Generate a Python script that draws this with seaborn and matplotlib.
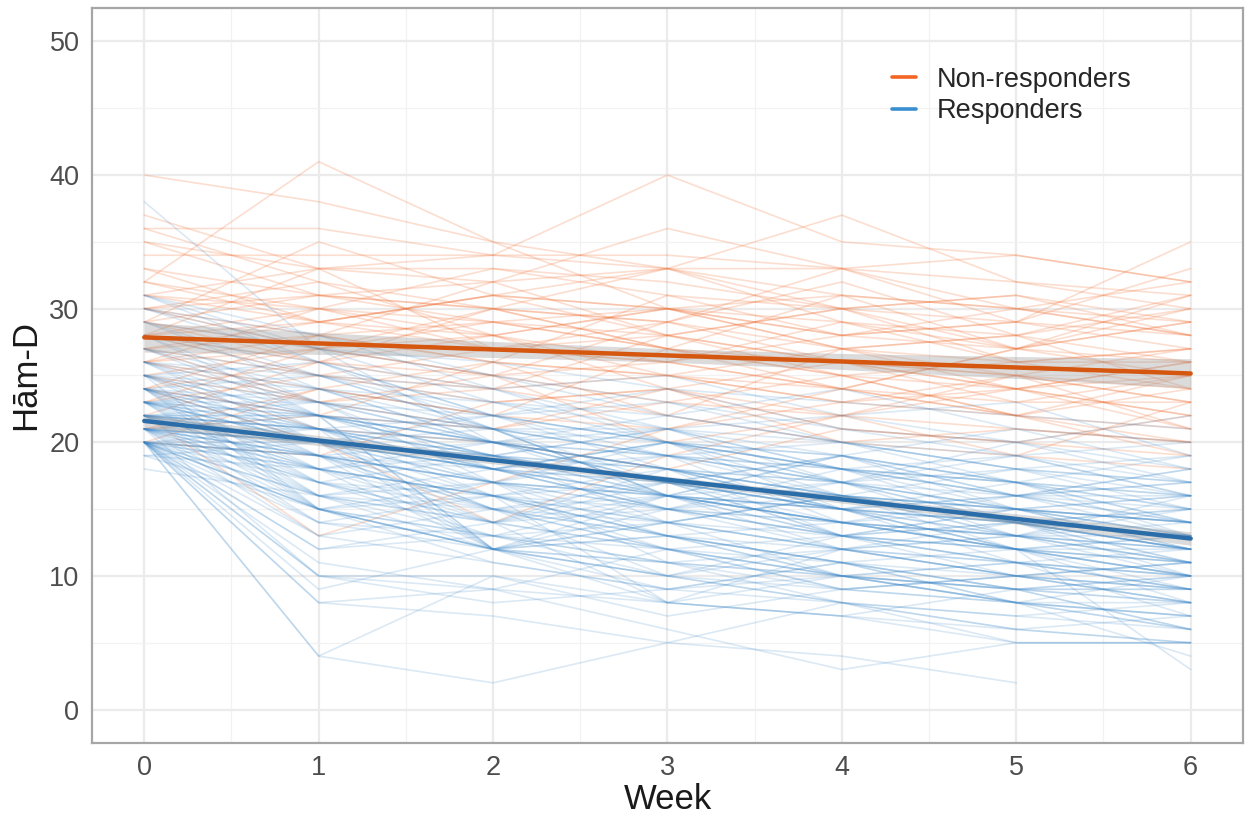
import numpy as np
import pandas as pd
import seaborn as sns
import matplotlib.pyplot as plt
from matplotlib.lines import Line2D
from matplotlib.ticker import MultipleLocator

nan = np.nan

# Week of assessment
weeks = [0, 1, 2, 3, 4, 5, 6]

# Ham-D scores per patient, weeks 0..6 (approximate)
nonresp_scores = [
    [40, 38, 35, 33, 31, 30, 28],
    [32, 41, 35, 30, 28, 27, 26],
    [37, 33, 34, 34, 33, 32, 30],
    [36, 36, 34, 40, 35, 34, 32],
    [35, 33, 32, 36, 33, 30, 29],
    [34, 34, 34, 33, 37, 32, 31],
    [31, 33, 33, 32, 30, 29, 35],
    [30, 31, 30, 33, 33, 34, 32],
    [29, 35, 31, 30, 28, 29, 33],
    [28, 30, 33, 31, 30, 27, 30],
    [33, 31, 30, 29, 27, 25, 24],
    [27, 29, 31, 33, 29, 26, 27],
    [26, 28, 29, 27, 31, 30, 28],
    [25, 27, 30, 29, 26, 24, 25],
    [24, 26, 28, 30, 27, 28, 26],
    [23, 25, 27, 26, 29, 27, 31],
    [22, 26, 24, 28, 26, 25, 27],
    [21, 22, 26, 25, 24, 27, 25],
    [20, 24, 22, 27, 25, 22, 24],
    [30, 28, 26, 25, 23, 24, 22],
    [29, 27, 28, 24, 26, 23, 23],
    [28, 26, 25, 23, 22, 24, 21],
    [27, 25, 23, 24, 21, 20, 22],
    [26, 24, 22, 21, 23, 22, 19],
    [25, 23, 24, 22, 20, 21, 20],
    [31, 29, 27, 26, 24, 22, 21],
    [32, 30, 29, 27, 26, 25, 23],
    [28, 33, 27, 28, 25, 26, 24],
    [27, 23, 21, 23, 25, 24, 26],
    [26, 30, 28, 26, 28, 29, 28],
    [24, 28, 32, 28, 30, 31, 29],
    [23, 27, 25, 29, 32, 28, 30],
    [29, 26, 30, 27, 24, 23, 25],
    [30, 32, 28, 30, 27, 26, 27],
    [35, 31, 29, 28, 26, 24, 22],
    [36, 32, 30, 27, 25, 22, 20],
    [25, 21, 20, 18, 21, 20, 19],
    [22, 13, 17, 21, 24, 22, 25],
    [24, 20, 14, 19, 22, 21, 20],
    [20, 19, 23, 24, 22, 25, 23],
    [21, 24, 26, 22, 27, 24, 26],
    [28, 29, 31, 30, 29, 28, 31],
    [27, 28, 26, 31, 28, 30, 32],
    [26, 27, 29, 30, 31, 27, 29],
    [29, 31, 32, 33, 30, 31, 28],
    [31, 30, 27, 29, 33, 29, 27],
    [33, 29, 28, 25, 27, 28, 24],
    [30, 27, 25, 26, 24, 27, 29],
    [28, 25, 24, 25, 23, 25, 21],
    [24, 22, 21, 24, 20, 19, 18],
    [26, 23, 25, 20, 22, 19, 23],
    [32, 29, 31, 28, 30, 26, 26],
]

resp_scores = [
    [38, 27, 20, 18, 15, 14, 12],
    [20, 4, 2, 5, 4, 2, nan],
    [20, 8, 9, 6, 3, 5, 5],
    [20, 4, 10, 8, 7, 5, 5],
    [31, 28, 25, 22, 20, 17, 15],
    [31, 27, 23, 20, 18, 16, 14],
    [30, 26, 24, 21, 19, 17, 13],
    [29, 25, 22, 20, 17, 15, 12],
    [29, 24, 21, 19, 16, 14, 11],
    [28, 26, 22, 18, 16, 13, 10],
    [28, 23, 20, 17, 15, 12, 9],
    [27, 25, 21, 19, 18, 15, 14],
    [27, 22, 19, 16, 14, 12, 8],
    [26, 24, 20, 18, 15, 13, 12],
    [26, 21, 18, 15, 13, 11, 10],
    [25, 23, 21, 19, 17, 15, 16],
    [25, 22, 12, 14, 12, 10, 9],
    [25, 20, 18, 16, 19, 17, 15],
    [25, 15, 12, 10, 9, 8, 7],
    [24, 22, 20, 21, 18, 16, 17],
    [24, 21, 19, 17, 15, 14, 13],
    [24, 20, 17, 14, 12, 10, 8],
    [24, 15, 12, 13, 11, 9, 10],
    [24, 18, 16, 18, 16, 15, 14],
    [23, 21, 22, 20, 18, 19, 16],
    [23, 20, 18, 16, 14, 12, 11],
    [23, 19, 15, 12, 10, 8, 6],
    [23, 22, 20, 17, 16, 14, 12],
    [23, 17, 14, 15, 13, 12, 11],
    [22, 20, 19, 18, 16, 15, 14],
    [22, 21, 18, 15, 14, 13, 13],
    [22, 19, 17, 19, 17, 14, 12],
    [22, 18, 12, 11, 10, 8, 8],
    [22, 15, 13, 11, 12, 10, 9],
    [22, 20, 16, 14, 16, 13, 15],
    [22, 22, 21, 20, 18, 17, 16],
    [21, 20, 18, 16, 15, 13, 12],
    [21, 19, 17, 15, 13, 12, 10],
    [21, 18, 15, 13, 11, 10, 9],
    [21, 21, 20, 19, 17, 16, 17],
    [21, 15, 12, 14, 13, 11, 12],
    [21, 17, 16, 17, 14, 15, 13],
    [21, 20, 22, 20, 19, 17, 14],
    [21, 13, 11, 9, 10, 8, 7],
    [20, 15, 12, 10, 8, 6, 5],
    [20, 18, 16, 15, 14, 12, 11],
    [20, 19, 17, 16, 15, 14, 13],
    [20, 14, 12, 11, 9, 10, 8],
    [20, 11, 9, 8, 7, 6, 5],
    [20, 10, 9, 12, 10, 9, 8],
    [20, 12, 13, 10, 8, 7, 6],
    [20, 16, 14, 12, 13, 11, 10],
    [20, 20, 18, 17, 16, 15, 14],
    [20, 17, 13, 14, 12, 10, 11],
    [20, 8, 7, 5, 8, 6, 7],
    [20, 9, 12, 8, 10, 9, 9],
    [20, 15, 11, 9, 11, 8, 6],
    [19, 18, 14, 12, 11, 9, 8],
    [19, 15, 13, 12, 10, 9, 10],
    [18, 16, 13, 11, 10, 8, 7],
    [25, 24, 23, 21, 20, 18, 17],
    [25, 21, 16, 13, 11, 9, 6],
    [24, 23, 22, 24, 21, 20, 18],
    [24, 19, 14, 16, 14, 13, 11],
    [23, 23, 20, 22, 20, 18, 19],
    [23, 18, 16, 13, 12, 11, 9],
    [22, 22, 19, 21, 22, 20, 22],
    [22, 17, 15, 12, 9, 8, 4],
    [26, 23, 17, 16, 17, 14, 13],
    [27, 24, 22, 23, 21, 19, 16],
    [28, 25, 23, 22, 24, 21, 20],
    [29, 27, 26, 24, 23, 22, 21],
    [30, 28, 24, 25, 22, 23, 19],
    [24, 25, 21, 17, 19, 16, 14],
    [23, 24, 20, 18, 17, 20, 17],
    [22, 23, 21, 16, 15, 12, 10],
    [21, 22, 18, 20, 15, 14, 15],
    [21, 20, 15, 17, 15, 16, 16],
    [20, 21, 19, 14, 16, 18, 15],
    [25, 19, 17, 20, 18, 16, 18],
    [24, 17, 19, 15, 17, 13, 16],
    [23, 16, 14, 18, 15, 17, 14],
    [22, 14, 16, 13, 11, 12, 13],
    [21, 16, 12, 10, 12, 14, 11],
    [20, 13, 15, 13, 14, 12, 12],
    [26, 20, 12, 16, 14, 12, 10],
    [22, 21, 12, 9, 8, 7, 8],
    [23, 22, 12, 13, 10, 11, 9],
    [21, 19, 12, 15, 12, 13, 11],
    [25, 22, 19, 18, 13, 12, 13],
    [24, 21, 18, 20, 17, 15, 12],
    [22, 20, 17, 13, 10, 11, 7],
    [21, 18, 16, 12, 9, 10, 8],
    [20, 19, 16, 14, 10, 9, 9],
    [23, 21, 17, 11, 8, 5, 5],
    [22, 19, 15, 10, 13, 10, 11],
    [21, 17, 14, 8, 12, 11, 10],
    [20, 15, 16, 8, 7, 9, 6],
    [24, 20, 18, 19, 20, 18, 17],
    [23, 20, 19, 17, 19, 21, 18],
    [22, 21, 20, 18, 17, 19, 20],
    [21, 20, 19, 21, 18, 17, 19],
    [20, 19, 18, 20, 19, 16, 18],
    [26, 25, 24, 20, 16, 15, 14],
    [25, 26, 22, 19, 18, 14, 12],
    [24, 22, 20, 16, 19, 15, 13],
    [23, 20, 21, 16, 14, 16, 15],
    [22, 18, 20, 17, 13, 15, 16],
    [21, 19, 20, 18, 16, 14, 10],
    [20, 18, 19, 16, 12, 13, 12],
    [28, 22, 20, 19, 14, 13, 11],
    [27, 23, 18, 17, 13, 14, 12],
    [26, 22, 21, 16, 15, 11, 9],
    [24, 16, 15, 14, 16, 12, 10],
    [23, 15, 17, 16, 13, 15, 13],
    [22, 16, 18, 15, 16, 14, 15],
    [20, 16, 17, 15, 18, 17, 16],
    [21, 14, 13, 16, 14, 13, 14],
    [20, 12, 14, 17, 15, 16, 13],
    [19, 20, 15, 16, 13, 14, 12],
    [31, 26, 21, 21, 17, 18, 16],
    [30, 27, 25, 23, 20, 19, 17],
    [22, 21, 19, 17, 15, 12, 3],
    [21, 10, 8, 9, 11, 8, 10],
    [20, 10, 10, 7, 9, 10, 11],
]

# Linear fits (end points) and their confidence half-widths per week
fit_weeks = [0, 6]
fit_nonresp = [27.85, 25.15]
fit_resp = [21.6, 12.8]
ci_nonresp = [1.1, 0.82, 0.6, 0.5, 0.6, 0.82, 1.1]
ci_resp = [0.5, 0.38, 0.28, 0.25, 0.28, 0.38, 0.5]

group_names = ["Non-responders", "Responders"]

# long format table
rows = []
for i, s in enumerate(nonresp_scores):
    for w, v in zip(weeks, s):
        rows.append(("N%d" % i, group_names[0], w, v))
for i, s in enumerate(resp_scores):
    for w, v in zip(weeks, s):
        rows.append(("R%d" % i, group_names[1], w, v))
df = pd.DataFrame(rows, columns=["id", "group", "week", "score"]).dropna()

sns.set_style("white")
plt.rcParams["font.family"] = ["Liberation Sans", "DejaVu Sans"]

orange_thin = "#f0692a"
orange_fit = "#d4560f"
blue_thin = "#3a86c8"
blue_fit = "#2b6da8"

fig = plt.figure(figsize=(12.53, 8.17), dpi=100)
ax = fig.add_axes([0.0734, 0.0906, 0.9186, 0.8996])

# spaghetti lines
sns.lineplot(data=df[df.group == group_names[0]], x="week", y="score", units="id",
             estimator=None, color=orange_thin, alpha=0.22, linewidth=1.2, ax=ax)
sns.lineplot(data=df[df.group == group_names[1]], x="week", y="score", units="id",
             estimator=None, color=blue_thin, alpha=0.18, linewidth=1.2, ax=ax)

# confidence ribbons + fitted lines
for fit, ci, col in [(fit_nonresp, ci_nonresp, orange_fit), (fit_resp, ci_resp, blue_fit)]:
    centre = np.interp(weeks, fit_weeks, fit)
    ax.fill_between(weeks, centre - np.array(ci), centre + np.array(ci),
                    color="#999999", alpha=0.35, linewidth=0, zorder=3)
    sns.lineplot(x=fit_weeks, y=fit, color=col, linewidth=3.2, ax=ax, zorder=4)

ax.set_xlim(-0.3, 6.3)
ax.set_ylim(-2.5, 52.5)
ax.xaxis.set_major_locator(MultipleLocator(1))
ax.xaxis.set_minor_locator(MultipleLocator(0.5))
ax.yaxis.set_major_locator(MultipleLocator(10))
ax.yaxis.set_minor_locator(MultipleLocator(5))
ax.grid(which="major", color="#ebebeb", linewidth=1.6)
ax.grid(which="minor", color="#f2f2f2", linewidth=0.9)
ax.set_axisbelow(True)

for sp in ax.spines.values():
    sp.set_color("#a6a6a6")
    sp.set_linewidth(1.6)

ax.tick_params(axis="both", which="major", length=5, width=1.2, color="#a6a6a6",
               labelsize=19.5, labelcolor="#4d4d4d", pad=4)
ax.tick_params(which="minor", length=0)

ax.set_xlabel("Week", fontsize=25, labelpad=1, color="#1a1a1a")
ax.set_ylabel("H\u0101m-D", fontsize=25, labelpad=5, color="#1a1a1a")

handles = [Line2D([], [], color="#f26522", linewidth=2.6),
           Line2D([], [], color="#3a8fd0", linewidth=2.6)]
ax.legend(handles, group_names, loc="upper left", bbox_to_anchor=(0.695, 0.92),
          frameon=False, fontsize=19.5, handlelength=0.9, handletextpad=0.75,
          labelspacing=0.2, borderpad=0, borderaxespad=0)

fig.savefig("out.png", dpi=100)
